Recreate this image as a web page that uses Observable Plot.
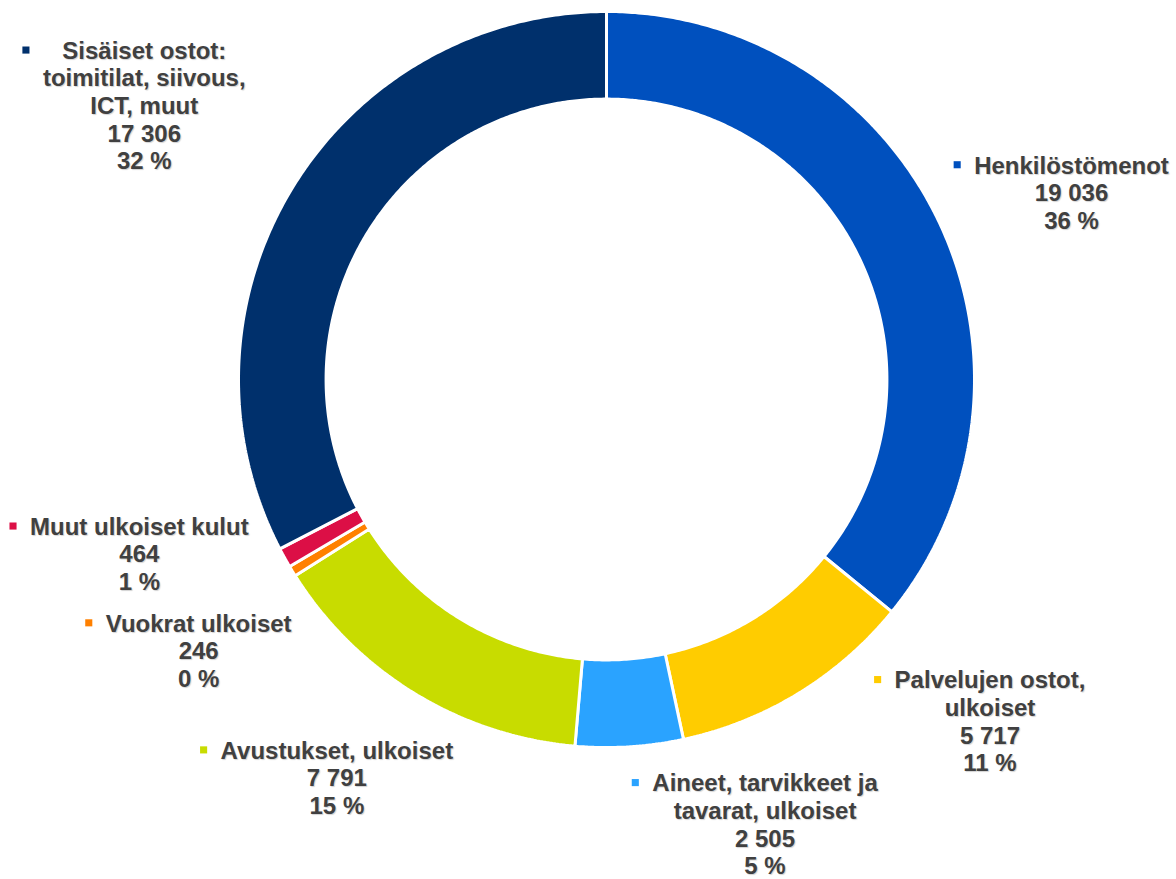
<!DOCTYPE html>
<html><head><meta charset="utf-8">
<script src="https://cdn.jsdelivr.net/npm/d3@7"></script>
<script src="https://cdn.jsdelivr.net/npm/@observablehq/plot@0.6"></script>
<style>
html,body{margin:0;padding:0;background:#fff;}
#chart svg{display:block;}
#chart text{text-shadow:1px 1px 1px rgba(0,0,0,0.18);}
</style></head><body><div id="chart"></div>
<script>
// ---- data ----
const categories = [
  "Henkilöstömenot",
  "Palvelujen ostot,\nulkoiset",
  "Aineet, tarvikkeet ja\ntavarat, ulkoiset",
  "Avustukset, ulkoiset",
  "Vuokrat ulkoiset",
  "Muut ulkoiset kulut",
  "Sisäiset ostot:\ntoimitilat, siivous,\nICT, muut"
];
const values = [19036, 5717, 2505, 7791, 246, 464, 17306];
const percents = [36, 11, 5, 15, 0, 1, 32];
const colors = ["#0050BE", "#FFCC00", "#2AA3FF", "#C8DC00", "#FF8000", "#DC0F46", "#00306C"];

// ---- layout ----
const W = 1176, H = 879, CX = 606, CY = 379, R = 368, INNER = 0.762, LABEL_R = 1.33;
const labelNudge = [[23, 23], [128, -76], [128, -44], [-15, -20], [10, 16], [-39, -63], [-44, -20]];
const FONT_SIZE = 24, LINE_H = 1.15;
const FONT = '"Liberation Sans", Arial, sans-serif';

const total = d3.sum(values);
const ends = Array.from(d3.cumsum(values));
const slices = categories.map((name, i) => ({
  name, value: values[i],
  a0: (ends[i] - values[i]) / total * 2 * Math.PI,
  a1: ends[i] / total * 2 * Math.PI
}));

// ring polygons in unit-radius coordinates
const ring = [];
for (const s of slices) {
  const n = Math.max(2, Math.ceil((s.a1 - s.a0) / (Math.PI / 360)));
  const pts = [];
  for (let k = 0; k <= n; k++) { const a = s.a0 + (s.a1 - s.a0) * k / n; pts.push([Math.sin(a), Math.cos(a)]); }
  for (let k = n; k >= 0; k--) { const a = s.a0 + (s.a1 - s.a0) * k / n; pts.push([INNER * Math.sin(a), INNER * Math.cos(a)]); }
  pts.push(pts[0]);
  for (const [x, y] of pts) ring.push({name: s.name, x, y});
}

const fmt = d3.formatLocale({thousands: " ", grouping: [3], decimal: ",", currency: ["", ""]}).format(",d");
const ctx = document.createElement("canvas").getContext("2d");
ctx.font = `bold ${FONT_SIZE}px ${FONT}`;

const labels = slices.map((s, i) => {
  const m = (s.a0 + s.a1) / 2;
  const text = s.name + "\n" + fmt(s.value) + "\n" + percents[i] + " %";
  const lines = text.split("\n");
  const maxW = d3.max(lines, l => ctx.measureText(l).width);
  const lx = LABEL_R * Math.sin(m) + labelNudge[i][0] / R;
  const ly = LABEL_R * Math.cos(m) - labelNudge[i][1] / R;
  const mx = lx - (maxW / 2 + 17) / R;
  const my = ly + ((lines.length - 1) / 2 * FONT_SIZE * LINE_H) / R;
  return {name: s.name, text, lx, ly, mx, my};
});

const chart = Plot.plot({
  width: W, height: H, margin: 0,
  x: {domain: [-CX / R, (W - CX) / R], range: [0, W], axis: null},
  y: {domain: [-(H - CY) / R, CY / R], range: [H, 0], axis: null},
  color: {domain: categories, range: colors},
  style: {fontFamily: FONT, background: "#fff"},
  marks: [
    Plot.line(ring, {x: "x", y: "y", z: "name", fill: "name", stroke: "white", strokeWidth: 3, curve: "linear", strokeLinejoin: "miter"}),
    Plot.dot(labels, {x: "mx", y: "my", symbol: "square", r: 4, fill: "name", stroke: "none"}),
    Plot.text(labels, {x: "lx", y: "ly", text: "text", fontSize: FONT_SIZE, fontWeight: "bold", fill: "#404040", lineHeight: LINE_H, textAnchor: "middle"})
  ]
});
document.getElementById("chart").appendChild(chart);
</script>
</body></html>
